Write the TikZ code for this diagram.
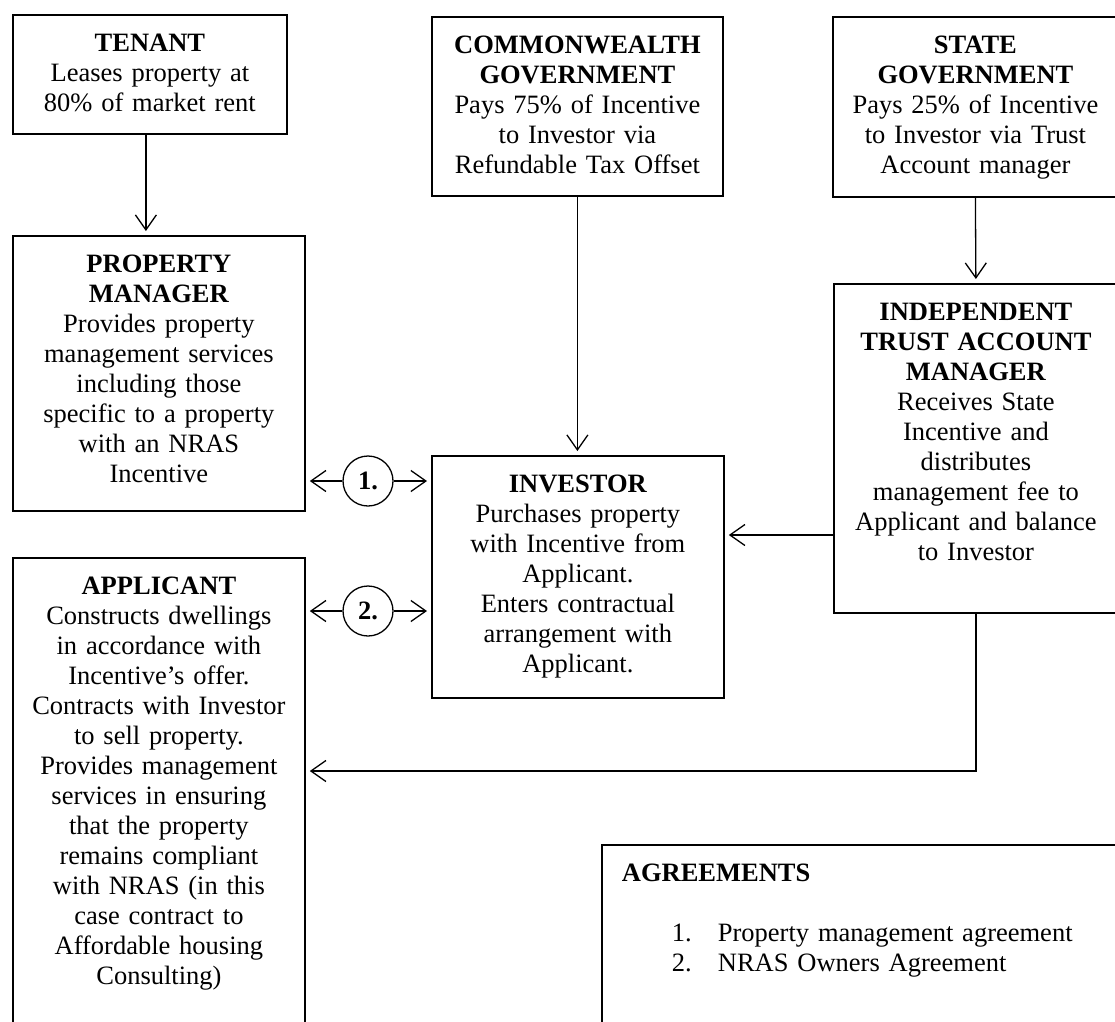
\documentclass[tikz,border=0pt]{standalone}
\usepackage{fontspec}
\setmainfont{Liberation Serif}
\usetikzlibrary{arrows.meta}

\begin{document}
\begin{tikzpicture}[
  x=1pt, y=-1pt,
  font=\fontsize{26.5pt}{30pt}\selectfont,
  party/.style={draw, line width=1.8pt, anchor=north west, align=center, inner xsep=3pt, inner ysep=0pt, text height=37pt},
  agreement/.style={circle, draw, line width=1.3pt, minimum size=50pt, inner sep=0pt, font=\fontsize{26.5pt}{30pt}\selectfont\bfseries},
  edge/.style={-{Straight Barb[length=15pt, width=21pt]}, line width=1.3pt, shorten >=4pt}
]
\useasboundingbox (0,0) rectangle (1115,1021);
\clip (0,0) rectangle (1115,1021);

\node[party, text width=268pt, text depth=82pt] (tenant) at (12,14) {\textbf{TENANT}\\Leases property at\\80\% of market rent};
\node[party, text width=286pt, text depth=238pt] (pm) at (12,235) {\textbf{PROPERTY}\\\textbf{MANAGER}\\Provides property\\management services\\including those\\specific to a property\\with an NRAS\\Incentive};
\node[party, text width=286pt, text depth=453pt] (appl) at (12,557) {\textbf{APPLICANT}\\Constructs dwellings\\in accordance with\\Incentive’s offer.\\Contracts with Investor\\to sell property.\\Provides management\\services in ensuring\\that the property\\remains compliant\\with NRAS (in this\\case contract to\\Affordable housing\\Consulting)};
\node[party, text width=285pt, text depth=142pt] (cw) at (431,16) {\textbf{COMMONWEALTH}\\\textbf{GOVERNMENT}\\Pays 75\% of Incentive\\to Investor via\\Refundable Tax Offset};
\node[party, text width=279pt, text depth=143pt] (state) at (832,16) {\textbf{STATE}\\\textbf{GOVERNMENT}\\Pays 25\% of Incentive\\to Investor via Trust\\Account manager};
\node[party, text width=286pt, text depth=205pt] (invest) at (431,455) {\textbf{INVESTOR}\\Purchases property\\with Incentive from\\Applicant.\\Enters contractual\\arrangement with\\Applicant.};
\node[party, text width=278pt, text depth=292pt] (indep) at (833,283) {\textbf{INDEPENDENT}\\\textbf{TRUST ACCOUNT}\\\textbf{MANAGER}\\Receives State\\Incentive and\\distributes\\management fee to\\Applicant and balance\\to Investor};
\node[party, align=left, inner xsep=20pt, text width=476pt, text depth=160pt] (agreements) at (601,844) {\textbf{AGREEMENTS}\\[30pt]\hspace*{50pt}\makebox[46pt][l]{1.}Property management agreement\\\hspace*{50pt}\makebox[46pt][l]{2.}NRAS Owners Agreement};

\node[agreement] (one) at (368,481) {1.};
\node[agreement] (two) at (368,611) {2.};

\coordinate (feeIn) at ([yshift=-80pt]invest.north east);
\coordinate (feeOut) at ([yshift=-214pt]appl.north east);
\coordinate (leaseIn) at ([xshift=-4pt]tenant.south);

\draw[edge] (leaseIn) -- (leaseIn |- pm.north);
\draw[edge] (cw.south) -- (cw.south |- invest.north);
\draw[edge] (state.south) -- (indep.north);
\draw[edge] (one) -- (one -| pm.east);
\draw[edge] (one) -- (one -| invest.west);
\draw[edge] (two) -- (two -| appl.east);
\draw[edge] (two) -- (two -| invest.west);
\draw[edge] (indep.west |- feeIn) -- (feeIn);
\draw[edge] (indep.south) |- (feeOut);
\end{tikzpicture}
\end{document}
